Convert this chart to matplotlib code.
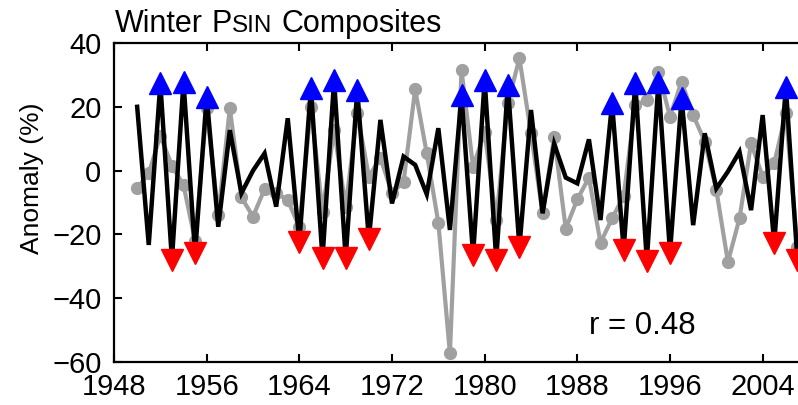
import matplotlib
matplotlib.use('Agg')
import matplotlib.pyplot as plt
import numpy as np

plt.rcParams['font.family'] = ['Liberation Sans', 'DejaVu Sans']

# winter anomaly (%) per year
years = np.arange(1950, 2008)
psin = [20.0, -23.3, 27.4, -28.0, 27.9, -25.9, 23.2, -17.6, 12.7, -7.1,
        0.0, 5.4, -11.3, 16.4, -22.3, 25.8, -27.5, 28.4, -27.5, 25.3,
        -21.5, 15.9, -10.3, 4.4, 1.8, -7.4, 13.3, -18.6, 23.7, -26.5,
        28.4, -28.0, 26.8, -24.0, 19.0, -13.4, 8.4, -2.2, -4.0, 9.8,
        -15.5, 21.2, -24.9, 27.4, -28.2, 27.9, -25.7, 22.7, -17.1, 11.7,
        -5.6, -0.3, 5.9, -12.4, 17.4, -22.8, 26.3, -28.0]
obs = [-5.6, -0.9, 11.0, 1.5, -4.5, -22.0, 19.5, -13.9, 19.5, -8.4,
       -14.4, -5.8, -7.0, -9.2, -17.8, 20.0, -12.9, 12.7, -11.3, 18.0,
       -1.9, 4.0, -7.1, -3.5, 25.5, 5.4, -16.3, -57.3, 31.5, 1.2,
       12.0, -15.5, 21.1, 35.2, 11.7, -13.4, 10.6, -18.2, -9.0, -2.2,
       -22.6, -15.0, -8.0, 20.6, 22.0, 31.0, 16.9, 27.9, 17.4, 9.1,
       -6.1, -28.6, -15.0, 8.6, -1.9, 2.3, 18.0, -24.0]
peak_years = [1952, 1954, 1956, 1965, 1967, 1969, 1978, 1980, 1982,
              1991, 1993, 1995, 1997, 2006]
trough_years = [1953, 1955, 1964, 1966, 1968, 1970, 1979, 1981, 1983,
                1992, 1994, 1996, 2005, 2007]
x_ticks = [1948, 1956, 1964, 1972, 1980, 1988, 1996, 2004]
y_ticks = [-60, -40, -20, 0, 20, 40]
r_text = 'r = 0.48'

psin_lookup = dict(zip(years, psin))
peak_vals = [psin_lookup[y] for y in peak_years]
trough_vals = [psin_lookup[y] for y in trough_years]

W, H = 798, 405
fig = plt.figure(figsize=(W / 100, H / 100), dpi=100)
ax = fig.add_axes([114 / W, 43 / H, 695 / W, 319 / H])

ax.plot(years, obs, color='#a0a0a0', lw=3.0, marker='o', ms=8.5, zorder=2)
ax.plot(years, psin, color='black', lw=3.2, zorder=3, solid_joinstyle='miter')
ax.plot(peak_years, peak_vals, ls='none', marker='^', ms=15.5,
        color='blue', mec='blue', zorder=4)
ax.plot(trough_years, trough_vals, ls='none', marker='v', ms=15.5,
        color='red', mec='red', zorder=4)

ax.set_xlim(1948, 2008)
ax.set_ylim(-60, 40)
ax.set_xticks(x_ticks)
ax.set_yticks(y_ticks)
ax.tick_params(direction='in', length=6, width=1.5, top=True, right=True,
               labelsize=21)
ax.tick_params(axis='y', pad=9)
ax.tick_params(axis='x', pad=8)
for s in ax.spines.values():
    s.set_linewidth(1.6)

ax.text(1993.6, -48.7, r_text, ha='center', va='center', fontsize=22.5)

fig.text(32 / W, 1 - 178 / H, 'Anomaly (%)', rotation=90, ha='center',
         va='center', fontsize=19)

# title pieces, "SIN" in small caps, placed one after another
renderer = fig.canvas.get_renderer()
base_y = 1 - 32 / H
x = 115
for txt, size, gap in [('Winter', 22, 9), ('P', 22, 0), ('SIN', 17.5, 9),
                       ('Composites', 22, 0)]:
    t = fig.text(x / W, base_y, txt, fontsize=size, va='baseline')
    x = t.get_window_extent(renderer).x1 + gap

fig.savefig('out.png', dpi=100)
